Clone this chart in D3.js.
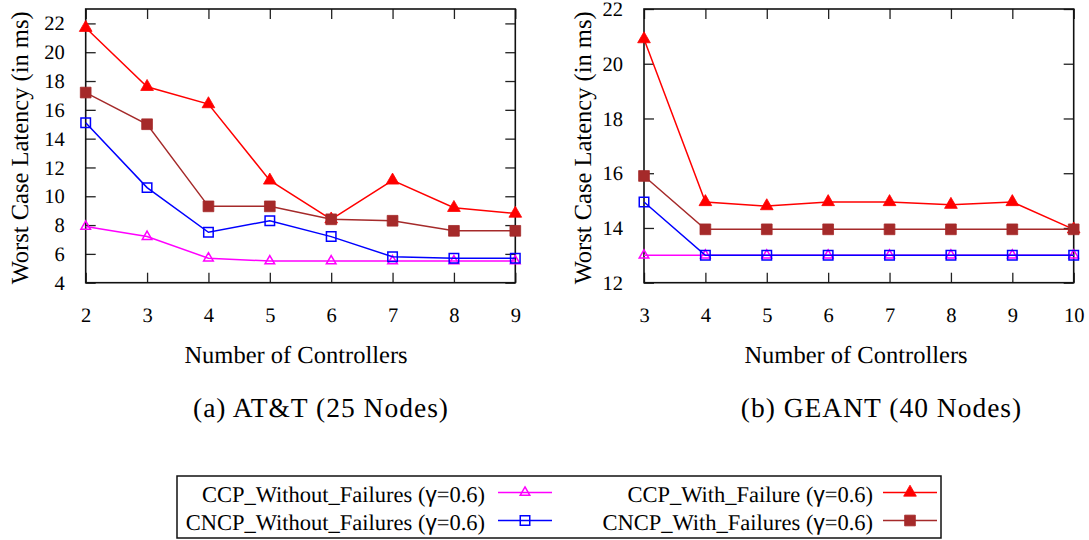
<!doctype html>
<html>
<head>
<meta charset="utf-8">
<script src="https://cdn.jsdelivr.net/npm/d3@7"></script>
<style>
  body { margin: 0; background: #fff; }
  svg text { text-rendering: geometricPrecision; }
</style>
</head>
<body>
<svg width="1089" height="540"></svg>
<script>
// ---- data ----
var attX = [2, 3, 4, 5, 6, 7, 8, 9];
var attCcpNoFail  = [7.9, 7.2, 5.7, 5.5, 5.5, 5.5, 5.5, 5.5];
var attCncpNoFail = [15.1, 10.6, 7.5, 8.3, 7.2, 5.8, 5.7, 5.7];
var attCcpFail    = [21.7, 17.6, 16.4, 11.1, 8.4, 11.1, 9.2, 8.8];
var attCncpFail   = [17.2, 15.0, 9.3, 9.3, 8.4, 8.3, 7.6, 7.6];
var attYTicks = [4, 6, 8, 10, 12, 14, 16, 18, 20, 22];

var geantX = [3, 4, 5, 6, 7, 8, 9, 10];
var geantCcpNoFail  = [13.0, 13.0, 13.0, 13.0, 13.0, 13.0, 13.0, 13.0];
var geantCncpNoFail = [14.95, 13.0, 13.0, 13.0, 13.0, 13.0, 13.0, 13.0];
var geantCcpFail    = [20.9, 14.95, 14.8, 14.95, 14.95, 14.85, 14.95, 13.95];
var geantCncpFail   = [15.9, 13.95, 13.95, 13.95, 13.95, 13.95, 13.95, 13.95];
var geantYTicks = [12, 14, 16, 18, 20, 22];

var seriesNames = [
  "CCP_Without_Failures",
  "CNCP_Without_Failures",
  "CCP_With_Failure",
  "CNCP_With_Failures"
];

var SERIF = "'Liberation Serif', 'Times New Roman'";

// look of each series (same order as names)
var styles = [
  {color: "#ff00ff", shape: d3.symbolTriangle, size: 40, fill: false},
  {color: "#0000ff", shape: d3.symbolSquare, size: 90, fill: false},
  {color: "#ff0000", shape: d3.symbolTriangle, size: 70, fill: true},
  {color: "#a52a2a", shape: d3.symbolSquare, size: 115, fill: true}
];

var svg = d3.select("svg");

function serif(sel, size) {
  return sel.style("font-family", SERIF).style("font-size", size + "px");
}

function panel(opts) {
  var x = d3.scaleLinear().domain(opts.xDomain).range([opts.left, opts.right]);
  var y = d3.scaleLinear().domain(opts.yDomain).range([opts.bottom, opts.top]);
  var g = svg.append("g");

  // inward ticks on all four sides, like gnuplot
  g.append("g")
    .attr("transform", "translate(0," + opts.bottom + ")")
    .call(d3.axisBottom(x).tickValues(opts.xValues).tickSize(-10).tickPadding(25).tickFormat(d3.format("d")));
  g.append("g")
    .attr("transform", "translate(0," + opts.top + ")")
    .call(d3.axisTop(x).tickValues(opts.xValues).tickSize(-10).tickFormat(""));
  g.append("g")
    .attr("transform", "translate(" + opts.left + ",0)")
    .call(d3.axisLeft(y).tickValues(opts.yTicks).tickSize(-10).tickPadding(21).tickFormat(d3.format("d")));
  g.append("g")
    .attr("transform", "translate(" + opts.right + ",0)")
    .call(d3.axisRight(y).tickValues(opts.yTicks).tickSize(-10).tickFormat(""));

  g.selectAll(".domain").remove();
  g.selectAll("g").attr("font-family", null).attr("font-size", null);
  g.selectAll(".tick line").attr("stroke", "#222").attr("stroke-width", 1.3);
  serif(g.selectAll(".tick text").attr("fill", "#000"), 20.5);

  // frame
  g.append("rect")
    .attr("x", opts.left).attr("y", opts.top)
    .attr("width", opts.right - opts.left).attr("height", opts.bottom - opts.top)
    .attr("fill", "none").attr("stroke", "#111").attr("stroke-width", 1.6);

  var line = d3.line()
    .x(function(d) { return x(d[0]); })
    .y(function(d) { return y(d[1]); });

  opts.series.forEach(function(vals, i) {
    var st = styles[i];
    var pts = opts.xValues.map(function(v, j) { return [v, vals[j]]; });
    g.append("path")
      .datum(pts)
      .attr("d", line)
      .attr("fill", "none")
      .attr("stroke", st.color)
      .attr("stroke-width", 1.5);
    g.selectAll(".pt" + i)
      .data(pts)
      .enter().append("path")
      .attr("transform", function(d) { return "translate(" + x(d[0]) + "," + y(d[1]) + ")"; })
      .attr("d", d3.symbol().type(st.shape).size(st.size))
      .attr("fill", st.fill ? st.color : "none")
      .attr("stroke", st.color)
      .attr("stroke-width", st.fill ? 0.8 : 1.5);
  });

  // axis titles
  serif(g.append("text"), 24.5)
    .attr("x", opts.xLabelX).attr("y", 363)
    .attr("text-anchor", "middle")
    .text("Number of Controllers");
  serif(g.append("text"), 24.5)
    .attr("transform", "translate(" + opts.yLabelX + "," + ((opts.top + opts.bottom) / 2 + 2) + ") rotate(-90)")
    .attr("text-anchor", "middle")
    .text("Worst Case Latency (in ms)");

  // sub-figure caption
  serif(g.append("text"), 27.5)
    .attr("x", opts.capX).attr("y", 417)
    .attr("text-anchor", "middle")
    .style("letter-spacing", "1px")
    .text(opts.caption);
}

panel({
  left: 85.7, right: 515.3, top: 9, bottom: 282.7,
  xDomain: [2, 9], yDomain: [4, 23],
  xValues: attX, yTicks: attYTicks,
  series: [attCcpNoFail, attCncpNoFail, attCcpFail, attCncpFail],
  xLabelX: 296, yLabelX: 28,
  caption: "(a) AT&T (25 Nodes)", capX: 321
});

panel({
  left: 644, right: 1073.7, top: 9, bottom: 282.7,
  xDomain: [3, 10], yDomain: [12, 22],
  xValues: geantX, yTicks: geantYTicks,
  series: [geantCcpNoFail, geantCncpNoFail, geantCcpFail, geantCncpFail],
  xLabelX: 856, yLabelX: 591,
  caption: "(b) GEANT (40 Nodes)", capX: 881.5
});

// ---- legend ----
var lg = svg.append("g");
lg.append("rect")
  .attr("x", 177).attr("y", 476).attr("width", 764).attr("height", 62)
  .attr("fill", "#fff").attr("stroke", "#111").attr("stroke-width", 1.5);

var legendPos = [
  {textX: 485, lineX: 498, lineY: 492.5},
  {textX: 485, lineX: 498, lineY: 520.5},
  {textX: 873, lineX: 883, lineY: 492.5},
  {textX: 873, lineX: 883, lineY: 520.5}
];

seriesNames.forEach(function(name, i) {
  var p = legendPos[i], st = styles[i];
  var t = serif(lg.append("text"), 22.5)
    .attr("x", p.textX).attr("y", p.lineY + 9.5)
    .attr("text-anchor", "end");
  t.append("tspan").text(name + " (");
  t.append("tspan").style("font-family", "'Liberation Sans'").text("\u03b3");
  t.append("tspan").text("=0.6)");
  lg.append("line")
    .attr("x1", p.lineX).attr("x2", p.lineX + 54)
    .attr("y1", p.lineY).attr("y2", p.lineY)
    .attr("stroke", st.color).attr("stroke-width", 1.5);
  lg.append("path")
    .attr("transform", "translate(" + (p.lineX + 27) + "," + p.lineY + ")")
    .attr("d", d3.symbol().type(st.shape).size(st.size))
    .attr("fill", st.fill ? st.color : "none")
    .attr("stroke", st.color)
    .attr("stroke-width", st.fill ? 0.8 : 1.5);
});
</script>
</body>
</html>
